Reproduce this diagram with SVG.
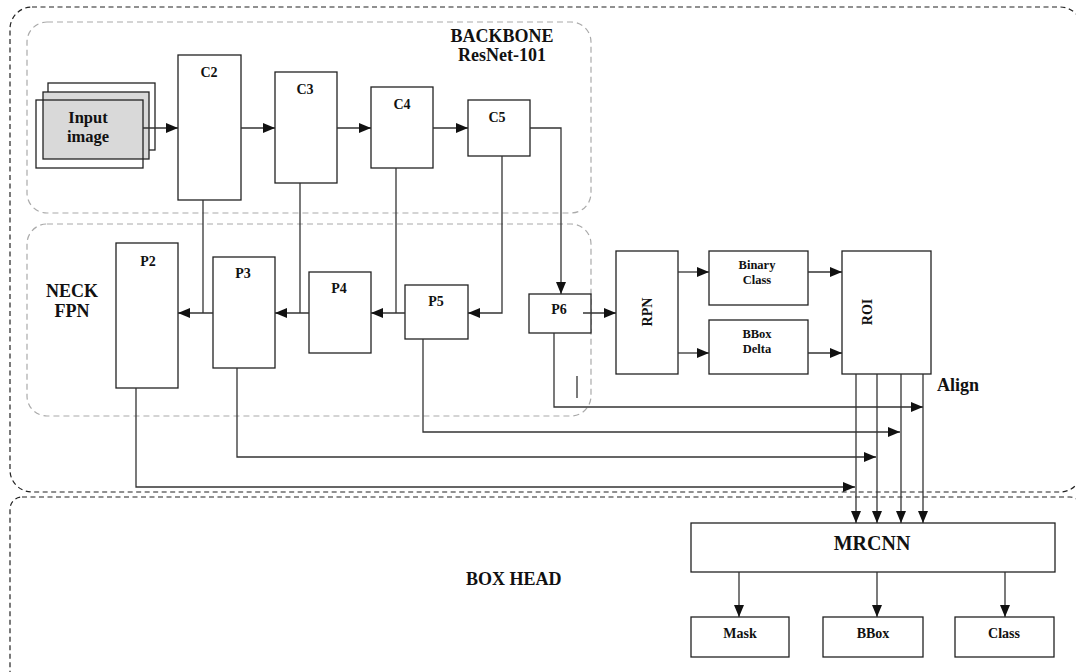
<svg xmlns="http://www.w3.org/2000/svg" width="1076" height="672" viewBox="0 0 1076 672">
<style>
.box{fill:#fff;stroke:#222;stroke-width:1.3}
.t{font-family:"Liberation Serif",serif;font-weight:bold;fill:#111;text-anchor:middle}
.outer{fill:none;stroke:#222;stroke-width:1.2;stroke-dasharray:5 3.5}
.inner{fill:none;stroke:#aaa;stroke-width:1.2;stroke-dasharray:6 4}
.c{fill:none;stroke:#333;stroke-width:1.3}
.ca{fill:none;stroke:#333;stroke-width:1.3;marker-end:url(#ah)}
</style>
<defs>
<marker id="ah" markerUnits="userSpaceOnUse" markerWidth="14" markerHeight="12" refX="12" refY="5" orient="auto">
<path d="M0,0 L12,5 L0,10 z" fill="#111"/>
</marker>
</defs>
<rect width="1076" height="672" fill="#fff"/>
<g id="frames">
<rect class="outer" x="10" y="7" width="1072" height="485" rx="22"/>
<rect class="outer" x="10" y="497" width="1072" height="200" rx="12"/>
<rect class="inner" x="27" y="22" width="564" height="191" rx="20"/>
<rect class="inner" x="27" y="224" width="564" height="192" rx="20"/>
<text class="t" x="502" y="42" font-size="18">BACKBONE</text>
<text class="t" x="502" y="61" font-size="18">ResNet-101</text>
<text class="t" x="72" y="297" font-size="18">NECK</text>
<text class="t" x="72" y="317" font-size="18">FPN</text>
<text class="t" x="466" y="585" font-size="18" style="text-anchor:start">BOX HEAD</text>
<text class="t" x="937" y="391" font-size="18" style="text-anchor:start">Align</text>
</g>
<g id="input">
<rect class="box" x="48" y="83" width="107" height="67"/>
<rect x="43" y="92" width="106" height="67" fill="#d9d9d9" stroke="#222" stroke-width="1.3"/>
<rect x="36" y="100" width="107" height="68" fill="none" stroke="#222" stroke-width="1.3"/>
<text class="t" x="88" y="123" font-size="16.5">Input</text>
<text class="t" x="88" y="142" font-size="16.5">image</text>
</g>
<g id="C2"><rect class="box" x="178" y="55" width="63" height="145"/><text class="t" x="209" y="77" font-size="14">C2</text></g>
<g id="C3"><rect class="box" x="275" y="72" width="62" height="111"/><text class="t" x="305" y="94" font-size="14">C3</text></g>
<g id="C4"><rect class="box" x="371" y="87" width="62" height="81"/><text class="t" x="402" y="109" font-size="14">C4</text></g>
<g id="C5"><rect class="box" x="468" y="100" width="62" height="56"/><text class="t" x="497" y="122" font-size="14">C5</text></g>
<g id="P2"><rect class="box" x="116" y="243" width="62" height="145"/><text class="t" x="148" y="266" font-size="14">P2</text></g>
<g id="P3"><rect class="box" x="213" y="257" width="62" height="111"/><text class="t" x="243" y="278" font-size="14">P3</text></g>
<g id="P4"><rect class="box" x="309" y="272" width="62" height="81"/><text class="t" x="339" y="293" font-size="14">P4</text></g>
<g id="P5"><rect class="box" x="405" y="285" width="63" height="54"/><text class="t" x="436" y="306" font-size="14">P5</text></g>
<g id="P6"><rect class="box" x="529" y="294" width="62" height="39"/><text class="t" x="559" y="314" font-size="14">P6</text></g>
<g id="RPN"><rect class="box" x="616" y="251" width="62" height="123"/><text class="t" font-size="14" transform="translate(647,312) rotate(-90)" y="5">RPN</text></g>
<g id="BinaryClass"><rect class="box" x="709" y="251" width="99" height="54"/><text class="t" x="757" y="269" font-size="12.5">Binary</text><text class="t" x="757" y="284" font-size="12.5">Class</text></g>
<g id="BBoxDelta"><rect class="box" x="709" y="320" width="99" height="54"/><text class="t" x="757" y="338" font-size="12.5">BBox</text><text class="t" x="757" y="353" font-size="12.5">Delta</text></g>
<g id="ROI"><rect class="box" x="842" y="251" width="89" height="123"/><text class="t" font-size="14" transform="translate(867,312) rotate(-90)" y="5">ROI</text></g>
<g id="MRCNN"><rect class="box" x="691" y="523" width="364" height="49"/><text class="t" x="872" y="550" font-size="20">MRCNN</text></g>
<g id="Mask"><rect class="box" x="691" y="617" width="98" height="40"/><text class="t" x="740" y="638" font-size="14">Mask</text></g>
<g id="BBox"><rect class="box" x="823" y="617" width="100" height="40"/><text class="t" x="873" y="638" font-size="14">BBox</text></g>
<g id="Class"><rect class="box" x="955" y="617" width="99" height="40"/><text class="t" x="1004" y="638" font-size="14">Class</text></g>
<g id="connectors">
<path class="ca" d="M143,128 H178"/>
<path class="ca" d="M241,128 H275"/>
<path class="ca" d="M337,128 H371"/>
<path class="ca" d="M433,128 H468"/>
<path class="ca" d="M530,128 H561 V294"/>
<path class="ca" d="M502,156 V313 H468"/>
<path class="c" d="M396,168 V313"/>
<path class="ca" d="M405,313 H371"/>
<path class="c" d="M300,183 V313"/>
<path class="ca" d="M309,313 H275"/>
<path class="c" d="M203,200 V313"/>
<path class="ca" d="M213,313 H178"/>
<path class="ca" d="M583,313 H616"/>
<path class="ca" d="M678,272 H709"/>
<path class="ca" d="M678,353 H709"/>
<path class="ca" d="M808,272 H842"/>
<path class="ca" d="M808,353 H842"/>
<path class="ca" d="M554,333 V407 H923"/>
<path class="ca" d="M423,339 V432 H900"/>
<path class="ca" d="M237,368 V457 H876"/>
<path class="ca" d="M136,388 V487 H855"/>
<path class="ca" d="M856,374 V523"/>
<path class="ca" d="M877,374 V523"/>
<path class="ca" d="M901,374 V523"/>
<path class="ca" d="M923,374 V523"/>
<path class="ca" d="M739,572 V617"/>
<path class="ca" d="M877,572 V617"/>
<path class="ca" d="M1005,572 V617"/>
<path class="c" d="M577,376 V398"/>
</g>
</svg>
